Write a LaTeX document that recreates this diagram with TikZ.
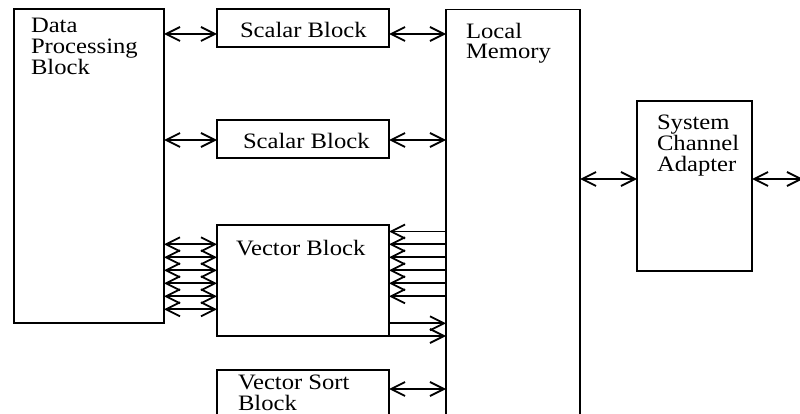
\documentclass[tikz,border=0pt]{standalone}
\usepackage{fontspec}
\setmainfont{Liberation Serif}[FakeStretch=1.12]
\usetikzlibrary{arrows.meta}
\begin{document}
\begin{tikzpicture}[x=1pt,y=-1pt,
  blk/.style={draw, line width=1.8pt, inner sep=0pt, outer sep=0pt, anchor=north west},
  lbl/.style={anchor=base west, inner sep=0pt, outer sep=0pt, font=\fontsize{22}{21}\selectfont},
  con/.style={line width=1.8pt},
  barb/.tip={Straight Barb[length=14pt,width=14pt]},
  bi/.style={con, barb-barb},
  toleft/.style={con, -barb},
  toright/.style={con, -barb}
]
\useasboundingbox (0,0) rectangle (800,414);
\clip (0,0) rectangle (800,414);
% blocks
\node[blk, minimum width=150pt, minimum height=314pt] (dpb) at (14,9) {};
\node[blk, minimum width=172pt, minimum height=38pt] (sb1) at (217,9) {};
\node[blk, minimum width=172pt, minimum height=38pt] (sb2) at (217,120) {};
\node[blk, minimum width=172pt, minimum height=111pt] (vb) at (217,225) {};
\node[blk, minimum width=172pt, minimum height=80pt] (vsb) at (217,370) {};
\node[blk, minimum width=134pt, minimum height=440pt] (lm) at (446,9.5) {};
\node[blk, minimum width=115pt, minimum height=170pt] (sca) at (637,101) {};
\coordinate (out) at (803,179);
% labels
\node[lbl] (t1) at (31,33) {Data};
\node[lbl] (t2) at (31,54) {Processing};
\node[lbl] (t3) at (31,75) {Block};
\node[lbl] (t4) at (240,38) {Scalar Block};
\node[lbl] (t5) at (243,148.5) {Scalar Block};
\node[lbl] (t6) at (236,255) {Vector Block};
\node[lbl] (t7) at (238,389) {Vector Sort};
\node[lbl] (t8) at (238,410) {Block};
\node[lbl] (t9) at (466,38.5) {Local};
\node[lbl] (t10) at (466,59) {Memory};
\node[lbl] (t11) at (657,130) {System};
\node[lbl] (t12) at (657,151) {Channel};
\node[lbl] (t13) at (657,172) {Adapter};
% connectors
\draw[bi] (dpb.east |- 0,34) -- (sb1.west |- 0,34);
\draw[bi] (sb1.east |- 0,34) -- (lm.west |- 0,34);
\draw[bi] (dpb.east |- 0,140) -- (sb2.west |- 0,140);
\draw[bi] (sb2.east |- 0,140) -- (lm.west |- 0,140);
\foreach \yy in {244.3,257.3,270.3,283.3,296.3,309.3}
  \draw[bi] (dpb.east |- 0,\yy) -- (vb.west |- 0,\yy);
\foreach \yy in {231.5,244.3,257.3,270.3,283.3,296.3}
  \draw[toleft] (lm.west |- 0,\yy) -- (vb.east |- 0,\yy);
\draw[toright] (vb.east |- 0,323.3) -- (lm.west |- 0,323.3);
\draw[toright] (vb.south east) -- (lm.west |- vb.south east);
\draw[bi] (vsb.east |- 0,389) -- (lm.west |- 0,389);
\draw[bi] (lm.east |- 0,179) -- (sca.west |- 0,179);
\draw[bi] (sca.east |- 0,179) -- (out);
\end{tikzpicture}
\end{document}
